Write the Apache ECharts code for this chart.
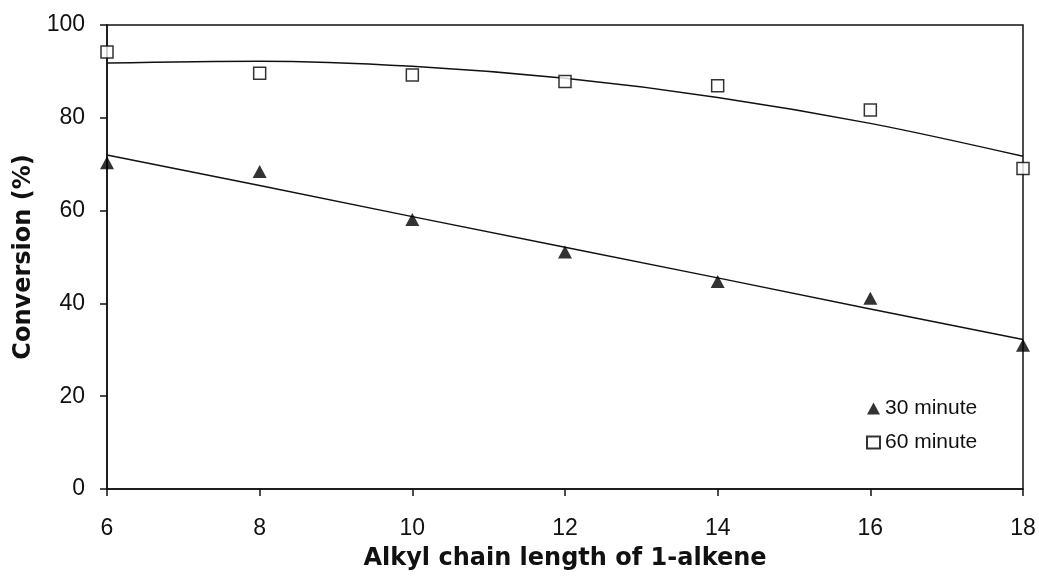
<!DOCTYPE html>
<html>
<head>
<meta charset="utf-8">
<script src="https://cdn.jsdelivr.net/npm/echarts@6/dist/echarts.min.js"></script>
<style>
  html, body { margin: 0; padding: 0; background: #fff; }
  #chart { width: 1039px; height: 577px; }
</style>
</head>
<body>
<div id="chart"></div>
<script>
// Alkyl chain length of the 1-alkene (carbon number)
var chainLength = [6, 8, 10, 12, 14, 16, 18];

// Measured conversion (%) after 30 and 60 minutes
var conv30 = [70.3, 68.4, 58.1, 51.1, 44.7, 41.1, 31.0];
var conv60 = [94.2, 89.6, 89.2, 87.8, 86.9, 81.7, 69.1];

// Trend lines: linear (30 min) and 2nd-order polynomial (60 min)
var trend30 = [72.0, 65.4, 58.7, 52.1, 45.5, 38.8, 32.2];
var trend60 = [91.8, 92.2, 91.1, 88.5, 84.4, 78.8, 71.7];

// Axis ticks
var xTicks = { min: 6, max: 18, step: 2 };
var yTicks = { min: 0, max: 100, step: 20 };

function pairs(xs, ys) {
  return xs.map(function (x, i) { return [x, ys[i]]; });
}

var ink = '#111';
var tickFont = { fontFamily: '"Liberation Sans", Arial, sans-serif', fontSize: 23, color: ink };
var titleFont = { fontFamily: '"DejaVu Sans", Arial, sans-serif', fontSize: 24, fontWeight: 'bold', color: ink };

var chart = echarts.init(document.getElementById('chart'), null, { renderer: 'canvas' });

chart.setOption({
  backgroundColor: '#fff',
  animation: false,
  grid: {
    left: 107, right: 16, top: 25, bottom: 88,
    show: true, borderColor: ink, borderWidth: 1.5, backgroundColor: 'transparent'
  },
  legend: {
    data: ['30 minute', '60 minute'],
    orient: 'vertical',
    left: 861, top: 393,
    itemWidth: 13, itemHeight: 12, itemGap: 13,
    textStyle: { fontFamily: '"Liberation Sans", Arial, sans-serif', fontSize: 21, color: ink }
  },
  xAxis: {
    type: 'value',
    min: xTicks.min, max: xTicks.max, interval: xTicks.step,
    name: 'Alkyl chain length of 1-alkene',
    nameLocation: 'middle', nameGap: 58,
    nameTextStyle: titleFont,
    axisLine: { show: true, lineStyle: { color: ink, width: 1.5 } },
    axisTick: { show: true, inside: false, length: 7, lineStyle: { color: ink, width: 1.5 } },
    axisLabel: Object.assign({ margin: 28 }, tickFont),
    splitLine: { show: false }
  },
  yAxis: {
    type: 'value',
    min: yTicks.min, max: yTicks.max, interval: yTicks.step,
    name: 'Conversion (%)',
    nameLocation: 'middle', nameGap: 67,
    nameTextStyle: titleFont,
    axisLine: { show: true, lineStyle: { color: ink, width: 1.5 } },
    axisTick: { show: true, inside: false, length: 7, lineStyle: { color: ink, width: 1.5 } },
    axisLabel: Object.assign({ margin: 22 }, tickFont),
    splitLine: { show: false }
  },
  series: [
    {
      name: 'trend 30',
      type: 'line',
      data: pairs(chainLength, trend30),
      showSymbol: false,
      lineStyle: { color: ink, width: 1.5 },
      silent: true, z: 2
    },
    {
      name: 'trend 60',
      type: 'line',
      data: pairs(chainLength, trend60),
      smooth: 0.35,
      showSymbol: false,
      lineStyle: { color: ink, width: 1.5 },
      silent: true, z: 2
    },
    {
      name: '30 minute',
      type: 'scatter',
      data: pairs(chainLength, conv30),
      symbol: 'triangle',
      symbolSize: [14, 13],
      itemStyle: { color: '#000' },
      z: 3
    },
    {
      name: '60 minute',
      type: 'scatter',
      data: pairs(chainLength, conv60),
      symbol: 'rect',
      symbolSize: 12,
      itemStyle: { color: '#fff', borderColor: '#000', borderWidth: 1.5 },
      z: 3
    }
  ]
});
</script>
</body>
</html>
